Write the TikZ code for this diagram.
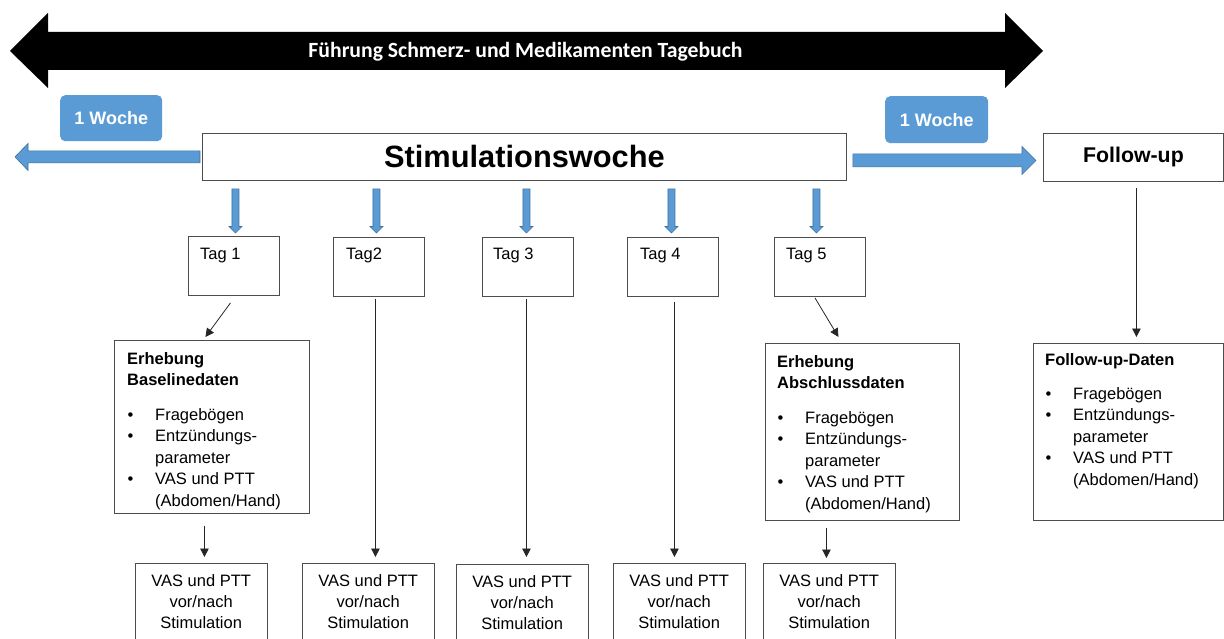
\documentclass[tikz,border=0pt]{standalone}
\usepackage{fontspec}
\setmainfont{Liberation Sans}
\newfontfamily\calibri{Carlito}
\usetikzlibrary{arrows.meta,calc}
\definecolor{oblue}{HTML}{5B9BD5}
\definecolor{oblueline}{HTML}{41719C}
\definecolor{boxline}{HTML}{4D4D4D}
\newcommand\mybul{\makebox[28pt][l]{\hspace{0.5pt}\textbullet}}
\newcommand\myind{\hspace*{28pt}}
% horizontal block arrow: from, to, shaft half, head half, signed head length
\newcommand\hblock[5]{%
  \filldraw[blk] let \p1=(#1), \p2=(#2) in
    (\x1,{\y1-#3}) -- ({\x2-(#5)},{\y1-#3}) -- ({\x2-(#5)},{\y1-#4}) -- (\x2,\y1)
    -- ({\x2-(#5)},{\y1+#4}) -- ({\x2-(#5)},{\y1+#3}) -- (\x1,{\y1+#3}) -- cycle;}
% vertical (downward) block arrow
\newcommand\vblock[5]{%
  \filldraw[blk] let \p1=(#1), \p2=(#2) in
    ({\x1-#3},\y1) -- ({\x1-#3},{\y2+#5}) -- ({\x1-#4},{\y2+#5}) -- (\x1,\y2)
    -- ({\x1+#4},{\y2+#5}) -- ({\x1+#3},{\y2+#5}) -- ({\x1+#3},\y1) -- cycle;}
\begin{document}
\begin{tikzpicture}[x=1pt,y=-1pt,
  box/.style={draw=boxline,line width=0.9pt,fill=white,inner sep=0pt,anchor=north west},
  txt/.style={inner sep=0pt,font=\fontsize{16.5}{21.5}\selectfont},
  arr/.style={draw=black!85,line width=0.8pt,-{Triangle[width=8.5pt,length=8.5pt]}},
  wbox/.style={fill=oblue,rounded corners=5pt,anchor=north west,inner sep=0pt,text=white,
               font=\bfseries\fontsize{18}{18}\selectfont},
  blk/.style={fill=oblue,draw=oblueline,line width=0.6pt},
  daybox/.style={box,minimum width=91pt,minimum height=59pt},
  vasbox/.style={box,minimum width=131.5pt,minimum height=100pt},
  vastxt/.style={txt,anchor=north,align=center,font=\fontsize{16.5}{21}\selectfont},
  daytxt/.style={txt,anchor=base west}
]
\clip (0,0) rectangle (1224,639);
\fill[white] (0,0) rectangle (1224,639);

% top black double arrow (diary)
\fill[black] (10,51) -- (48,13) -- (48,32) -- (1005,32) -- (1005,13) -- (1043,51)
  -- (1005,88) -- (1005,70) -- (48,70) -- (48,88) -- cycle;
\node[inner sep=0pt,anchor=base,text=white,font=\calibri\bfseries\fontsize{21.7}{21.7}\selectfont]
  (diary) at (525.5,58) {Führung Schmerz- und Medikamenten Tagebuch};

% week labels
\node[wbox,minimum width=102pt,minimum height=46pt] (w1) at (60,95) {1 Woche};
\node[wbox,minimum width=103pt,minimum height=47pt] (w2) at (885,96) {1 Woche};

% main boxes
\node[box,minimum width=644pt,minimum height=47pt,font=\bfseries\fontsize{30.8}{30.8}\selectfont]
  (stim) at (202,133) {Stimulationswoche};
\node[box,minimum width=180pt,minimum height=48pt,font=\bfseries\fontsize{21.3}{21.3}\selectfont]
  (fu) at (1043,133) {Follow-up};

% big blue arrows
\coordinate (ltip) at ([xshift=-187pt]stim.west);
\hblock{[xshift=-2pt]stim.west}{ltip}{6pt}{13.5pt}{-13pt}
\hblock{[shift={(6pt,-3.5pt)}]stim.east}{[shift={(-7pt,-3pt)}]fu.west}{6.5pt}{14pt}{14pt}

% day boxes
\node[daybox] (t1) at (188,236) {};
\node[daybox] (t2) at (333,237) {};
\node[daybox] (t3) at (482,237) {};
\node[daybox] (t4) at (627,237) {};
\node[daybox] (t5) at (774,237) {};
\node[daytxt] (t1l) at ([shift={(12pt,-23pt)}]t1.north west) {Tag 1};
\node[daytxt] (t2l) at ([shift={(13pt,-22pt)}]t2.north west) {Tag2};
\node[daytxt] (t3l) at ([shift={(11pt,-22pt)}]t3.north west) {Tag 3};
\node[daytxt] (t4l) at ([shift={(13pt,-22pt)}]t4.north west) {Tag 4};
\node[daytxt] (t5l) at ([shift={(12pt,-22pt)}]t5.north west) {Tag 5};

% small blue arrows
\vblock{$(t1.north |- stim.south)+(1.5,8)$}{[shift={(1.5pt,3pt)}]t1.north}{3.5pt}{6.5pt}{6.5pt}
\vblock{$(t2.north |- stim.south)+(-2.5,8)$}{[shift={(-2.5pt,4pt)}]t2.north}{3.5pt}{6.5pt}{6.5pt}
\vblock{$(t3.north |- stim.south)+(-1.5,8)$}{[shift={(-1.5pt,4pt)}]t3.north}{3.5pt}{6.5pt}{6.5pt}
\vblock{$(t4.north |- stim.south)+(-1.5,8)$}{[shift={(-1.5pt,4pt)}]t4.north}{3.5pt}{6.5pt}{6.5pt}
\vblock{$(t5.north |- stim.south)+(-3.5,8)$}{[shift={(-3.5pt,4pt)}]t5.north}{3.5pt}{6.5pt}{6.5pt}

% data boxes
\node[box,minimum width=195pt,minimum height=173pt] (base) at (114,340) {};
\node[txt,anchor=north west,align=left] (basetxt) at ([shift={(13pt,-12pt)}]base.north west)
  {\textbf{Erhebung}\\\textbf{Baselinedaten}\\[13pt]
   \mybul Fragebögen\\\mybul Entzündungs-\\\myind parameter\\\mybul VAS und PTT\\\myind (Abdomen/Hand)};
\node[box,minimum width=194pt,minimum height=177pt] (abs) at (765,343) {};
\node[txt,anchor=north west,align=left] (abstxt) at ([shift={(12pt,-12pt)}]abs.north west)
  {\textbf{Erhebung}\\\textbf{Abschlussdaten}\\[13pt]
   \mybul Fragebögen\\\mybul Entzündungs-\\\myind parameter\\\mybul VAS und PTT\\\myind (Abdomen/Hand)};
\node[box,minimum width=190pt,minimum height=177pt] (fud) at (1033,343) {};
\node[txt,anchor=north west,align=left] (fudtxt) at ([shift={(12pt,-10pt)}]fud.north west)
  {\textbf{Follow-up-Daten}\\[12.5pt]
   \mybul Fragebögen\\\mybul Entzündungs-\\\myind parameter\\\mybul VAS und PTT\\\myind (Abdomen/Hand)};

% VAS boxes
\node[vasbox] (v1) at (135,563) {};
\node[vasbox] (v2) at (302,563) {};
\node[vasbox] (v3) at (456,564) {};
\node[vasbox] (v4) at (613,563) {};
\node[vasbox] (v5) at (763,563) {};
\foreach \v in {v1,v2,v3,v4,v5}{
  \node[vastxt] (\v t) at ([yshift=-11pt]\v.north) {VAS und PTT\\vor/nach\\Stimulation};
}

% black connectors
\draw[arr] ([shift={(-3.5pt,-7pt)}]t1.south) -- ([shift={(-6.5pt,3pt)}]base.north);
\draw[arr] ([shift={(-7.5pt,-12pt)}]base.south) -- ($(base.south |- v1.north)+(-7.5,-6)$);
\draw[arr] ([shift={(-3.5pt,-2pt)}]t2.south) -- ($(t2.south |- v2.north)+(-3.5,-6)$);
\draw[arr] ([shift={(-1.5pt,-2pt)}]t3.south) -- ($(t3.south |- v3.north)+(-1.5,-7)$);
\draw[arr] ([shift={(1.5pt,-5pt)}]t4.south) -- ($(t4.south |- v4.north)+(1.5,-6)$);
\draw[arr] ([shift={(-5pt,-1pt)}]t5.south) -- ([shift={(-24pt,6pt)}]abs.north);
\draw[arr] ([shift={(-36pt,-7pt)}]abs.south) -- ($(abs.south |- v5.north)+(-36,-5)$);
\draw[arr] ([shift={(3pt,-6pt)}]fu.south) -- ($(fu.south |- fud.north)+(3,-6)$);
\end{tikzpicture}
\end{document}
